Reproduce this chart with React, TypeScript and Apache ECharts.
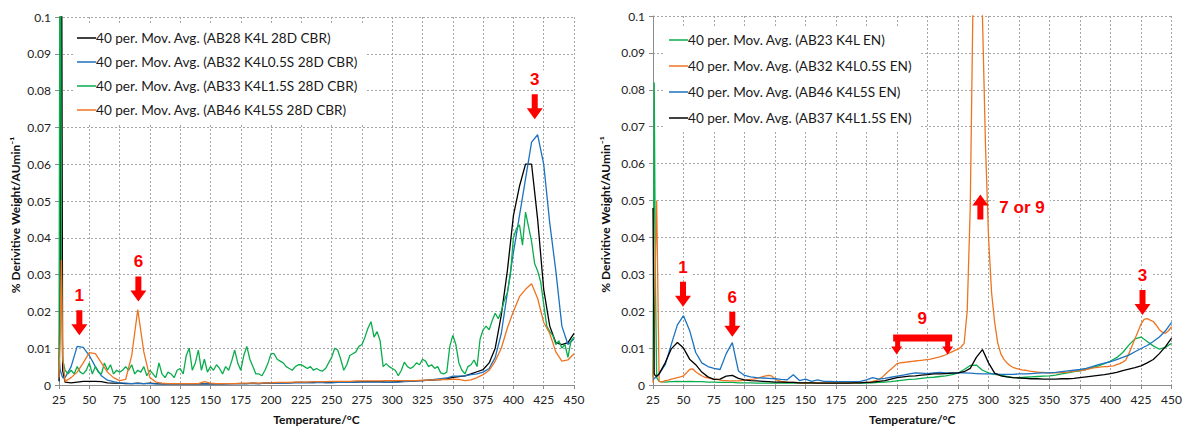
import React, { useEffect, useRef } from "react";
import * as echarts from "echarts";

// ---------- temperature grids (°C) ----------
const tempsCoarse = [
  25, 26, 27, 28,
  30, 35, 40, 45, 50, 55, 60, 65, 70, 75,
  80, 85, 90, 95, 100, 105, 110, 115, 120, 125,
  130, 135, 140, 145, 150, 155, 160, 165, 170, 175,
  180, 185, 190, 195, 200, 205, 210, 215, 220, 225,
  230, 235, 240, 245, 250, 255, 260, 265, 270, 275,
  280, 285, 290, 295, 300, 305, 310, 315, 320, 325,
  330, 335, 340, 345, 350, 355, 360, 365, 370, 375,
  380, 385, 390, 395, 400, 405, 410, 415, 420, 425,
  430, 435, 440, 445, 450,
];

const tempsFine = [
  25, 26, 27, 28,
  30, 32.5, 35, 37.5, 40, 42.5, 45, 47.5, 50, 52.5,
  55, 57.5, 60, 62.5, 65, 67.5, 70, 72.5, 75, 77.5,
  80, 82.5, 85, 87.5, 90, 92.5, 95, 97.5, 100, 102.5,
  105, 107.5, 110, 112.5, 115, 117.5, 120, 122.5, 125, 127.5,
  130, 132.5, 135, 137.5, 140, 142.5, 145, 147.5, 150, 152.5,
  155, 157.5, 160, 162.5, 165, 167.5, 170, 172.5, 175, 177.5,
  180, 182.5, 185, 187.5, 190, 192.5, 195, 197.5, 200, 202.5,
  205, 207.5, 210, 212.5, 215, 217.5, 220, 222.5, 225, 227.5,
  230, 232.5, 235, 237.5, 240, 242.5, 245, 247.5, 250, 252.5,
  255, 257.5, 260, 262.5, 265, 267.5, 270, 272.5, 275, 277.5,
  280, 282.5, 285, 287.5, 290, 292.5, 295, 297.5, 300, 302.5,
  305, 307.5, 310, 312.5, 315, 317.5, 320, 322.5, 325, 327.5,
  330, 332.5, 335, 337.5, 340, 342.5, 345, 347.5, 350, 352.5,
  355, 357.5, 360, 362.5, 365, 367.5, 370, 372.5, 375, 377.5,
  380, 382.5, 385, 387.5, 390, 392.5, 395, 397.5, 400, 402.5,
  405, 407.5, 410, 412.5, 415, 417.5, 420, 422.5, 425, 427.5,
  430, 432.5, 435, 437.5, 440, 442.5, 445, 447.5, 450,
];

// ---------- left chart (28D CBR) ----------
const leftBlack = [
  0.001, 0.03, 0.15, 0.004,
  0.0008, 0.0006, 0.0008, 0.001, 0.001, 0.001, 0.0009, 0.0006, 0.0005, 0.0005,
  0.0004, 0.0004, 0.0005, 0.0004, 0.0005, 0.0004, 0.0003, 0.0003, 0.0004, 0.0003,
  0.0003, 0.0003, 0.0004, 0.0003, 0.0003, 0.0004, 0.0003, 0.0004, 0.0004, 0.0004,
  0.0004, 0.0005, 0.0004, 0.0005, 0.0005, 0.0006, 0.0006, 0.0006, 0.0007, 0.0007,
  0.0007, 0.0007, 0.0008, 0.0007, 0.0007, 0.0008, 0.0008, 0.0008, 0.0008, 0.0009,
  0.0009, 0.0009, 0.0009, 0.0008, 0.0008, 0.0009, 0.001, 0.001, 0.0011, 0.0012,
  0.0013, 0.0014, 0.0015, 0.0017, 0.0021, 0.0023, 0.0025, 0.003, 0.0036, 0.0042,
  0.006, 0.01, 0.019, 0.031, 0.046, 0.054, 0.06, 0.06, 0.045, 0.026,
  0.016, 0.0115, 0.011, 0.0115, 0.014,
];

const leftBlue = [
  0.008, 0.004, 0.003, 0.002,
  0.002, 0.005, 0.0105, 0.0102, 0.008, 0.005, 0.0025, 0.0013, 0.0009, 0.0006,
  0.0005, 0.0004, 0.0004, 0.0004, 0.0004, 0.0003, 0.0004, 0.0003, 0.0003, 0.0003,
  0.0003, 0.0003, 0.0003, 0.0003, 0.0003, 0.0004, 0.0003, 0.0003, 0.0004, 0.0004,
  0.0004, 0.0004, 0.0004, 0.0005, 0.0005, 0.0005, 0.0005, 0.0006, 0.0006, 0.0006,
  0.0006, 0.0006, 0.0007, 0.0006, 0.0006, 0.0007, 0.0007, 0.0007, 0.0008, 0.0008,
  0.0008, 0.0008, 0.0008, 0.0007, 0.0008, 0.0008, 0.0009, 0.001, 0.0011, 0.0012,
  0.0013, 0.0015, 0.0017, 0.0019, 0.0024, 0.0024, 0.0025, 0.0028, 0.003, 0.0035,
  0.0045, 0.0075, 0.014, 0.025, 0.036, 0.046, 0.056, 0.066, 0.068, 0.06,
  0.044, 0.031, 0.016, 0.011, 0.0125,
];

const leftOrange = [
  0.002, 0.012, 0.034, 0.008,
  0.001, 0.002, 0.0035, 0.006, 0.0088, 0.0085, 0.006, 0.0035, 0.002, 0.0012,
  0.0015, 0.008, 0.0205, 0.009, 0.002, 0.0008, 0.0005, 0.0004, 0.0004, 0.0004,
  0.0004, 0.0004, 0.0004, 0.0009, 0.0005, 0.0004, 0.0004, 0.0004, 0.0004, 0.0005,
  0.0005, 0.0005, 0.0005, 0.0006, 0.0006, 0.0007, 0.0007, 0.0007, 0.0008, 0.0008,
  0.0008, 0.0009, 0.0009, 0.0009, 0.001, 0.001, 0.001, 0.001, 0.0011, 0.0011,
  0.0011, 0.0011, 0.0011, 0.0012, 0.0012, 0.0012, 0.0012, 0.0012, 0.0012, 0.0013,
  0.0013, 0.0014, 0.0015, 0.0015, 0.0016, 0.0015, 0.0012, 0.0014, 0.002, 0.0028,
  0.004, 0.0065, 0.01, 0.0155, 0.02, 0.024, 0.026, 0.0275, 0.0235, 0.017,
  0.014, 0.009, 0.0065, 0.0068, 0.0085,
];

const leftGreen = [
  0.004, 0.16, 0.03, 0.007,
  0.004, 0.003, 0.004, 0.003, 0.005, 0.0035, 0.003, 0.004, 0.006, 0.003,
  0.005, 0.0035, 0.003, 0.006, 0.004, 0.0055, 0.003, 0.004, 0.0035, 0.004,
  0.005, 0.004, 0.0055, 0.003, 0.004, 0.0035, 0.005, 0.0025, 0.004, 0.003,
  0.002, 0.006, 0.003, 0.002, 0.0035, 0.003, 0.002, 0.004, 0.0045, 0.003,
  0.008, 0.01, 0.004, 0.006, 0.0095, 0.004, 0.007, 0.0035, 0.005, 0.004,
  0.0055, 0.0045, 0.003, 0.005, 0.004, 0.0065, 0.0095, 0.006, 0.004, 0.008,
  0.0105, 0.007, 0.005, 0.003, 0.003, 0.0025, 0.004, 0.006, 0.0085, 0.0085,
  0.007, 0.0065, 0.006, 0.005, 0.0045, 0.004, 0.005, 0.0055, 0.0055, 0.005,
  0.0045, 0.005, 0.004, 0.0045, 0.004, 0.0038, 0.0045, 0.006, 0.0075, 0.01,
  0.0095, 0.007, 0.004, 0.0055, 0.008, 0.0085, 0.009, 0.0105, 0.011, 0.013,
  0.0155, 0.0172, 0.013, 0.0145, 0.012, 0.005, 0.0058, 0.005, 0.0045, 0.004,
  0.0025, 0.004, 0.0062, 0.005, 0.0045, 0.005, 0.006, 0.0055, 0.007, 0.0065,
  0.005, 0.0055, 0.0045, 0.005, 0.0033, 0.003, 0.0035, 0.0105, 0.0135, 0.011,
  0.006, 0.004, 0.003, 0.005, 0.0055, 0.0068, 0.005, 0.0125, 0.015, 0.016,
  0.015, 0.0175, 0.0195, 0.018, 0.02, 0.023, 0.025, 0.03, 0.04, 0.0425,
  0.0435, 0.038, 0.047, 0.043, 0.039, 0.033, 0.031, 0.028, 0.022, 0.016,
  0.0145, 0.0135, 0.011, 0.012, 0.01, 0.011, 0.0075, 0.012, 0.013,
];

// ---------- right chart (EN) ----------
const rightGreen = [
  0.002, 0.082, 0.028, 0.002,
  0.001, 0.0008, 0.0009, 0.001, 0.0009, 0.001, 0.0009, 0.0009, 0.0008, 0.0008,
  0.0007, 0.0007, 0.0007, 0.0006, 0.0006, 0.0006, 0.0005, 0.0005, 0.0005, 0.0005,
  0.0005, 0.0005, 0.0005, 0.0005, 0.0005, 0.0005, 0.0005, 0.0005, 0.0005, 0.0005,
  0.0005, 0.0005, 0.0005, 0.0005, 0.0005, 0.0006, 0.0007, 0.0008, 0.0009, 0.0011,
  0.0013, 0.0015, 0.0016, 0.0018, 0.002, 0.0021, 0.0023, 0.0025, 0.0028, 0.0032,
  0.0042, 0.0053, 0.0054, 0.004, 0.0033, 0.0029, 0.0026, 0.0023, 0.002, 0.002,
  0.0021, 0.0022, 0.0023, 0.0024, 0.0025, 0.0027, 0.003, 0.0033, 0.0036, 0.0038,
  0.0042, 0.0047, 0.0052, 0.0058, 0.0065, 0.0074, 0.0088, 0.0108, 0.0125, 0.013,
  0.0118, 0.0106, 0.0097, 0.0102, 0.0113,
];

const rightBlack = [
  0.048, 0.003, 0.0025, 0.0024,
  0.003, 0.006, 0.0098, 0.0115, 0.01, 0.007, 0.0055, 0.0035, 0.0022, 0.0015,
  0.0016, 0.0024, 0.0026, 0.0018, 0.0014, 0.0012, 0.0011, 0.001, 0.0009, 0.0008,
  0.0008, 0.0007, 0.0007, 0.0006, 0.0006, 0.0006, 0.0005, 0.0005, 0.0005, 0.0005,
  0.0005, 0.0005, 0.0006, 0.0006, 0.0007, 0.0008, 0.001, 0.0012, 0.0016, 0.002,
  0.0022, 0.0024, 0.0025, 0.0027, 0.0028, 0.003, 0.003, 0.0031, 0.0032, 0.0033,
  0.0036, 0.0045, 0.0075, 0.0096, 0.006, 0.0032, 0.0025, 0.0022, 0.002, 0.0019,
  0.0018, 0.0017, 0.0017, 0.0016, 0.0016, 0.0016, 0.0017, 0.0017, 0.0018, 0.002,
  0.0022, 0.0024, 0.0026, 0.0028, 0.0031, 0.0034, 0.0039, 0.0043, 0.0047, 0.0052,
  0.006, 0.0069, 0.0085, 0.0104, 0.0127,
];

const rightBlue = [
  0.0015, 0.0018, 0.002, 0.0024,
  0.003, 0.0055, 0.011, 0.0163, 0.0188, 0.0148, 0.0088, 0.006, 0.005, 0.0045,
  0.0042, 0.0085, 0.0115, 0.0038, 0.0026, 0.0022, 0.002, 0.0019, 0.0018, 0.0017,
  0.0015, 0.0014, 0.0028, 0.0012, 0.0016, 0.001, 0.0014, 0.001, 0.001, 0.0009,
  0.0009, 0.0009, 0.0009, 0.001, 0.0014, 0.002, 0.0016, 0.0018, 0.0021, 0.0024,
  0.0027, 0.003, 0.0033, 0.0032, 0.0031, 0.0033, 0.0034, 0.0033, 0.0033, 0.0033,
  0.0033, 0.0032, 0.0031, 0.003, 0.003, 0.003, 0.0029, 0.0029, 0.0029, 0.003,
  0.003, 0.0031, 0.0032, 0.0033, 0.0033, 0.0034, 0.0036, 0.0038, 0.004, 0.0042,
  0.0045, 0.005, 0.0055, 0.0059, 0.0063, 0.0069, 0.0075, 0.0081, 0.009, 0.0099,
  0.0107, 0.0118, 0.013, 0.0147, 0.017,
];

const rightOrange = [
  0.0006, 0.012, 0.035, 0.05,
  0.001, 0.0008, 0.0012, 0.0013, 0.0016, 0.0018, 0.002, 0.0022, 0.0025, 0.0033,
  0.0042, 0.0044, 0.0036, 0.003, 0.0025, 0.0021, 0.0019, 0.0017, 0.0016, 0.0015,
  0.0013, 0.0012, 0.0012, 0.0011, 0.0011, 0.0011, 0.0011, 0.0012, 0.0013, 0.0014,
  0.0015, 0.0016, 0.0018, 0.002, 0.0023, 0.0025, 0.0026, 0.0024, 0.0017, 0.0012,
  0.001, 0.0009, 0.0008, 0.0007, 0.0007, 0.0007, 0.0006, 0.0006, 0.0006, 0.0006,
  0.0006, 0.0006, 0.0006, 0.0006, 0.0006, 0.0006, 0.0006, 0.0006, 0.0006, 0.0006,
  0.0006, 0.0006, 0.0006, 0.0006, 0.0006, 0.0006, 0.0007, 0.0007, 0.0007, 0.0008,
  0.001, 0.0012, 0.0015, 0.002, 0.0028, 0.0036, 0.0043, 0.005, 0.0058, 0.006,
  0.0061, 0.0062, 0.0063, 0.0064, 0.0065, 0.0066, 0.0067, 0.0068, 0.0069, 0.007,
  0.0072, 0.0074, 0.0076, 0.0079, 0.0082, 0.0086, 0.009, 0.0094, 0.0097, 0.0103,
  0.0113, 0.02, 0.048, 0.11, 0.25, 0.25, 0.1, 0.065, 0.04, 0.025,
  0.017, 0.0115, 0.0085, 0.007, 0.006, 0.0053, 0.0048, 0.0045, 0.0043, 0.0041,
  0.004, 0.0038, 0.0037, 0.0036, 0.0035, 0.0034, 0.0034, 0.0033, 0.0033, 0.0033,
  0.0033, 0.0033, 0.0034, 0.0034, 0.0035, 0.0036, 0.0037, 0.0038, 0.0039, 0.004,
  0.0042, 0.0044, 0.0046, 0.0047, 0.0048, 0.0049, 0.005, 0.005, 0.0051, 0.0052,
  0.0055, 0.0058, 0.0062, 0.0068, 0.0085, 0.0105, 0.0125, 0.0145, 0.0165, 0.0178,
  0.018, 0.0176, 0.0172, 0.0162, 0.015, 0.0143, 0.014, 0.0147, 0.0158,
];

// ---------- annotations (data coordinates of arrow tips / bracket centre) ----------
const leftNotes = [
  { t: 41.8, v: 0.0135, text: "1", kind: "down" },
  { t: 90.5, v: 0.0227, text: "6", kind: "down" },
  { t: 417.6, v: 0.0722, text: "3", kind: "down" },
];
const rightNotes = [
  { t: 49.6, v: 0.0212, text: "1", kind: "down" },
  { t: 90, v: 0.0131, text: "6", kind: "down" },
  { t: 426.2, v: 0.019, text: "3", kind: "down" },
  { t: 293.3, v: 0.0516, text: "7 or 9", kind: "up" },
  { t: 245.6, v: 0.011, text: "9", kind: "bracket" },
];

const leftNames = [
  "40 per. Mov. Avg. (AB28 K4L 28D CBR)",
  "40 per. Mov. Avg. (AB32 K4L0.5S 28D CBR)",
  "40 per. Mov. Avg. (AB33 K4L1.5S 28D CBR)",
  "40 per. Mov. Avg. (AB46 K4L5S 28D CBR)",
];
const rightNames = [
  "40 per. Mov. Avg. (AB23 K4L EN)",
  "40 per. Mov. Avg. (AB32 K4L0.5S EN)",
  "40 per. Mov. Avg. (AB46 K4L5S EN)",
  "40 per. Mov. Avg. (AB37 K4L1.5S EN)",
];

const C_BLACK = "#000000";
const C_BLUE = "#1b72c0";
const C_GREEN = "#0aad4c";
const C_ORANGE = "#ee7422";
const FONT = "Lato, 'Open Sans', sans-serif";
const RED = "#ff0000";

const DOWN = "path://M5,0 L11,0 L11,14 L16,14 L8,25 L0,14 L5,14 Z";
const UP = "path://M8,0 L16,11 L11,11 L11,25 L5,25 L5,11 L0,11 Z";
const BRACKET =
  "path://M2,0 L61,0 L61,7 L59,7 L59,12 L62,12 L56.5,20 L51,12 L54,12 L54,7 L9,7 L9,12 L11,12 L5.5,20 L0,12 L4,12 L4,7 L2,7 Z";

const toPairs = (xs: number[], ys: number[]) => xs.map((x, i) => [x, ys[i]]);

function noteItems(notes: typeof rightNotes) {
  return notes.map((n) => {
    const label: any = {
      show: true,
      formatter: n.text,
      color: RED,
      fontWeight: "bold",
      fontSize: 17,
      fontFamily: "'Liberation Sans', Arial, sans-serif",
      backgroundColor: "#ffffff",
      padding: [1, 5],
    };
    let symbol = DOWN;
    let symbolSize: number[] = [16, 25];
    let symbolOffset: any[] = [0, "-50%"];
    if (n.kind === "down") {
      label.position = "top";
      label.distance = 5;
    } else if (n.kind === "up") {
      symbol = UP;
      symbolOffset = [0, "50%"];
      label.position = "right";
      label.distance = 6;
    } else {
      symbol = BRACKET;
      symbolSize = [62, 20];
      symbolOffset = [0, 0];
      label.position = "top";
      label.distance = 6;
    }
    return {
      coord: [n.t, n.v],
      symbol,
      symbolSize,
      symbolOffset,
      symbolKeepAspect: false,
      itemStyle: { color: RED },
      label,
    };
  });
}

function lineSeries(name: string, xs: number[], ys: number[], color: string, idx: number, notes?: any) {
  const s: any = {
    name,
    type: "line",
    xAxisIndex: idx,
    yAxisIndex: idx,
    data: toPairs(xs, ys),
    symbol: "none",
    showSymbol: false,
    clip: true,
    lineStyle: { color, width: 1.3 },
    itemStyle: { color },
    emphasis: { disabled: true },
  };
  if (notes) {
    s.markPoint = { silent: true, animation: false, data: notes };
  }
  return s;
}

function xAxisCfg(idx: number) {
  return {
    gridIndex: idx,
    type: "value",
    min: 25,
    max: 450,
    interval: 25,
    axisLine: { show: true, lineStyle: { color: "#8c8c8c", width: 1 } },
    axisTick: { show: true, length: 4, lineStyle: { color: "#8c8c8c" } },
    axisLabel: { fontSize: 12, color: "#222", margin: 8, fontFamily: FONT },
    splitLine: { show: true, lineStyle: { type: [2, 2], color: "#a6a6a6", width: 1 } },
    name: "Temperature/°C",
    nameLocation: "middle",
    nameGap: 28,
    nameTextStyle: { fontWeight: "bold", fontSize: 12, color: "#111", fontFamily: FONT },
  };
}

function yAxisCfg(idx: number, gap: number) {
  return {
    gridIndex: idx,
    type: "value",
    min: 0,
    max: 0.1,
    interval: 0.01,
    axisLine: { show: true, lineStyle: { color: "#8c8c8c", width: 1 } },
    axisTick: { show: true, length: 4, lineStyle: { color: "#8c8c8c" } },
    axisLabel: {
      fontSize: 12,
      color: "#222",
      margin: 8,
      fontFamily: FONT,
      formatter: (v: number) => String(Number(v.toFixed(2))),
    },
    splitLine: { show: true, lineStyle: { type: [2, 2], color: "#a6a6a6", width: 1 } },
    name: "% Derivitive Weight/AUmin⁻¹",
    nameLocation: "middle",
    nameGap: gap,
    nameRotate: 90,
    nameTextStyle: { fontWeight: "bold", fontSize: 12, color: "#111", fontFamily: FONT, padding: [0, 0, 0, -28] },
  };
}

function legendCfg(names: string[], left: number, top: number, gap: number) {
  return {
    data: names.map((n) => ({ name: n, icon: "rect" })),
    orient: "vertical",
    left,
    top,
    itemWidth: 19,
    itemHeight: 1.5,
    itemGap: gap,
    padding: [5, 8, 5, 4],
    backgroundColor: "#ffffff",
    selectedMode: false,
    textStyle: { fontSize: 13.6, color: "#1a1a1a", fontFamily: FONT, lineHeight: 16, padding: [0, 0, 0, -5] },
  };
}

const option: any = {
  animation: false,
  backgroundColor: "#ffffff",
  grid: [
    { left: 59, top: 17, width: 515, height: 370, containLabel: false },
    { left: 653, top: 16, width: 519, height: 373, containLabel: false },
  ],
  xAxis: [xAxisCfg(0), xAxisCfg(1)],
  yAxis: [yAxisCfg(0, 38), yAxisCfg(1, 42)],
  legend: [legendCfg(leftNames, 73, 25, 8), legendCfg(rightNames, 665, 27, 10)],
  series: [
    lineSeries(leftNames[0], tempsCoarse, leftBlack, C_BLACK, 0),
    lineSeries(leftNames[1], tempsCoarse, leftBlue, C_BLUE, 0),
    lineSeries(leftNames[2], tempsFine, leftGreen, C_GREEN, 0),
    lineSeries(leftNames[3], tempsCoarse, leftOrange, C_ORANGE, 0, noteItems(leftNotes)),
    lineSeries(rightNames[0], tempsCoarse, rightGreen, C_GREEN, 1),
    lineSeries(rightNames[1], tempsFine, rightOrange, C_ORANGE, 1),
    lineSeries(rightNames[2], tempsCoarse, rightBlue, C_BLUE, 1),
    lineSeries(rightNames[3], tempsCoarse, rightBlack, C_BLACK, 1, noteItems(rightNotes)),
  ],
};

export default function App() {
  const ref = useRef<HTMLDivElement>(null);
  useEffect(() => {
    if (!ref.current) return;
    const chart = echarts.init(ref.current, null, { renderer: "svg" });
    chart.setOption(option);
    return () => chart.dispose();
  }, []);
  return (
    <div
      ref={ref}
      style={{ position: "absolute", left: 0, top: 0, width: 1185, height: 430, background: "#fff" }}
    />
  );
}
